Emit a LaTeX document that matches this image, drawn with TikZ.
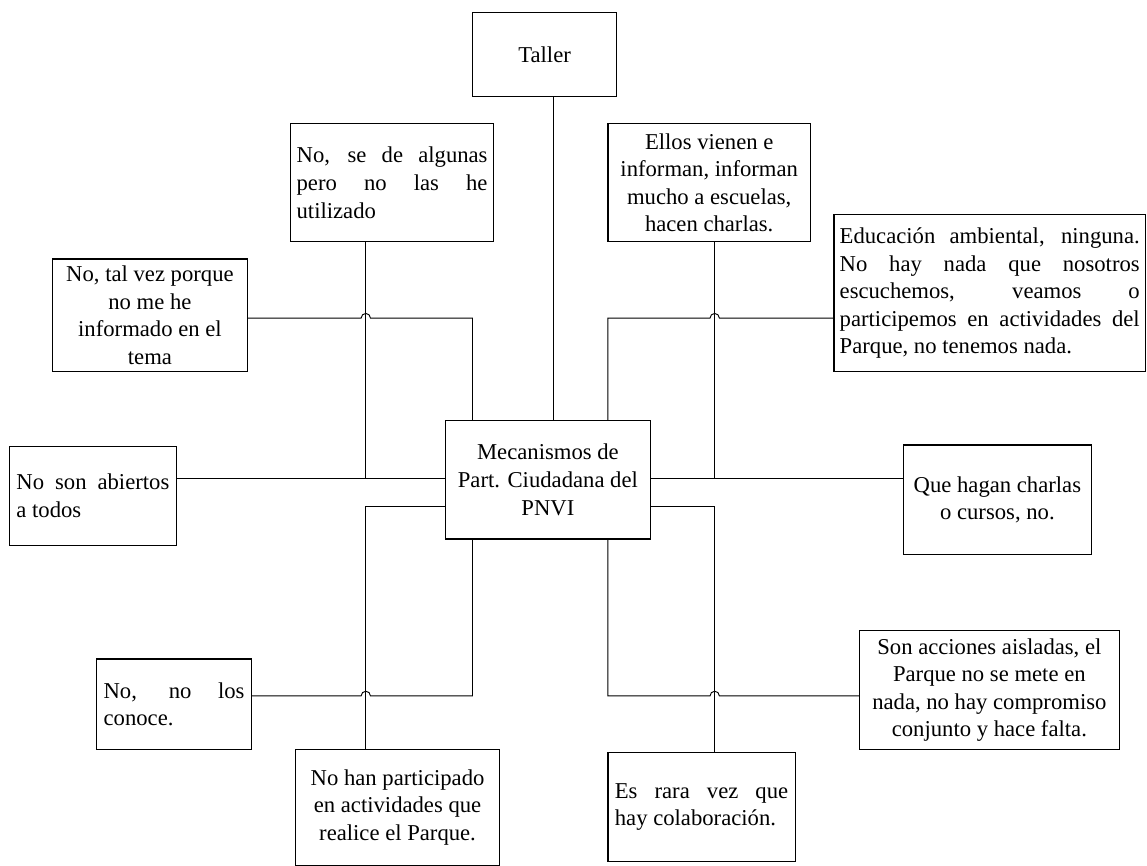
\documentclass[tikz,border=0pt]{standalone}
\usepackage{fontspec}
\setmainfont{Liberation Serif}
\newcommand{\pxu}{0.75pt}
% a justified line of a given width
\newcommand{\jline}[2]{\makebox[#1][s]{#2}}
\begin{document}
\begin{tikzpicture}[x=0.75pt,y=-0.75pt,
  box/.style={draw=black, line width=0.9pt, inner sep=1pt,
    font=\fontsize{17pt}{20.7pt}\selectfont},
  cbox/.style={box, align=center},
  lbox/.style={box, align=left},
  link/.style={draw=black, line width=0.7pt}]
\useasboundingbox (0,0) rectangle (1147,866);

% boxes
\node[cbox, minimum width=144.2*\pxu, minimum height=84.4*\pxu] (taller) at (544.6,54.4) {Taller};
\node[lbox, minimum width=203.4*\pxu, minimum height=118.2*\pxu] (nose) at (392.1,182.8)
  {\jline{143.2pt}{No, se de algunas}\\\jline{143.2pt}{pero no las he}\\utilizado};
\node[cbox, minimum width=202.6*\pxu, minimum height=118.2*\pxu] (ellos) at (709.2,182.8)
  {Ellos vienen e\\informan, informan\\mucho a escuelas,\\hacen charlas.};
\node[lbox, minimum width=311.6*\pxu, minimum height=156.9*\pxu] (educ) at (989.7,293.25)
  {\jline{225pt}{Educación ambiental, ninguna.}\\\jline{225pt}{No hay nada que nosotros}\\
   \jline{225pt}{escuchemos, veamos o}\\\jline{225pt}{participemos en actividades del}\\
   Parque, no tenemos nada.};
\node[cbox, minimum width=194.5*\pxu, minimum height=112.7*\pxu] (talvez) at (149.95,315.35)
  {No, tal vez porque\\no me he\\informado en el\\tema};
\node[lbox, minimum width=166.8*\pxu, minimum height=98.3*\pxu] (abiertos) at (92.9,495.95)
  {\jline{114.7pt}{No son abiertos}\\a todos};
\node[cbox, minimum width=188*\pxu, minimum height=109.4*\pxu] (quehagan) at (997.4,499.8)
  {Que hagan charlas\\o cursos, no.};
\node[cbox, minimum width=204.8*\pxu, minimum height=118.2*\pxu] (mec) at (547.9,479.9)
  {Mecanismos de\\Part. Ciudadana del\\PNVI};
\node[lbox, minimum width=155*\pxu, minimum height=90.6*\pxu] (nolos) at (174.1,704.2)
  {\jline{105.7pt}{No, no los}\\conoce.};
\node[cbox, minimum width=204.1*\pxu, minimum height=116*\pxu] (nohan) at (397.55,807.5)
  {No han participado\\en actividades que\\realice el Parque.};
\node[lbox, minimum width=187.3*\pxu, minimum height=109.4*\pxu] (esrara) at (701.55,806.9)
  {\jline{130pt}{Es rara vez que}\\hay colaboración.};
\node[cbox, minimum width=259.7*\pxu, minimum height=118.8*\pxu] (sonacc) at (989.35,690.1)
  {Son acciones aisladas, el\\Parque no se mete en\\nada, no hay compromiso\\conjunto y hace falta.};

% columns and rows of the connector grid
\coordinate (cA) at (365.8,0);
\coordinate (cB) at (472.5,0);
\coordinate (cT) at (553,0);
\coordinate (cC) at (607.9,0);
\coordinate (cD) at (714.7,0);
\coordinate (rTop) at (0,318.1);
\coordinate (rMid) at (0,478.8);
\coordinate (rLow) at (0,506.5);
\coordinate (rBot) at (0,695.9);
% crossings where a line hops over another
\coordinate (hTL) at (cA |- rTop);
\coordinate (hTR) at (cD |- rTop);
\coordinate (hBL) at (cA |- rBot);
\coordinate (hBR) at (cD |- rBot);

% connectors
\draw[link] (taller.south -| cT) -- (mec.north -| cT);
\draw[link] (nose.south -| cA) -- (cA |- rMid);
\draw[link] (ellos.south -| cD) -- (cD |- rMid);
\draw[link] (talvez.east |- rTop) -- ([xshift=-3.5pt]hTL)
  arc[start angle=180, end angle=0, radius=3.5pt] -- (cB |- rTop) -- (mec.north -| cB);
\draw[link] (mec.north -| cC) -- (cC |- rTop) -- ([xshift=-3.5pt]hTR)
  arc[start angle=180, end angle=0, radius=3.5pt] -- (educ.west |- rTop);
\draw[link] (abiertos.east |- rMid) -- (mec.west |- rMid);
\draw[link] (mec.east |- rMid) -- (quehagan.west |- rMid);
\draw[link] (mec.west |- rLow) -- (cA |- rLow) -- (nohan.north -| cA);
\draw[link] (mec.east |- rLow) -- (cD |- rLow) -- (esrara.north -| cD);
\draw[link] (nolos.east |- rBot) -- ([xshift=-3.5pt]hBL)
  arc[start angle=180, end angle=0, radius=3.5pt] -- (cB |- rBot) -- (mec.south -| cB);
\draw[link] (mec.south -| cC) -- (cC |- rBot) -- ([xshift=-3.5pt]hBR)
  arc[start angle=180, end angle=0, radius=3.5pt] -- (sonacc.west |- rBot);
\end{tikzpicture}
\end{document}
